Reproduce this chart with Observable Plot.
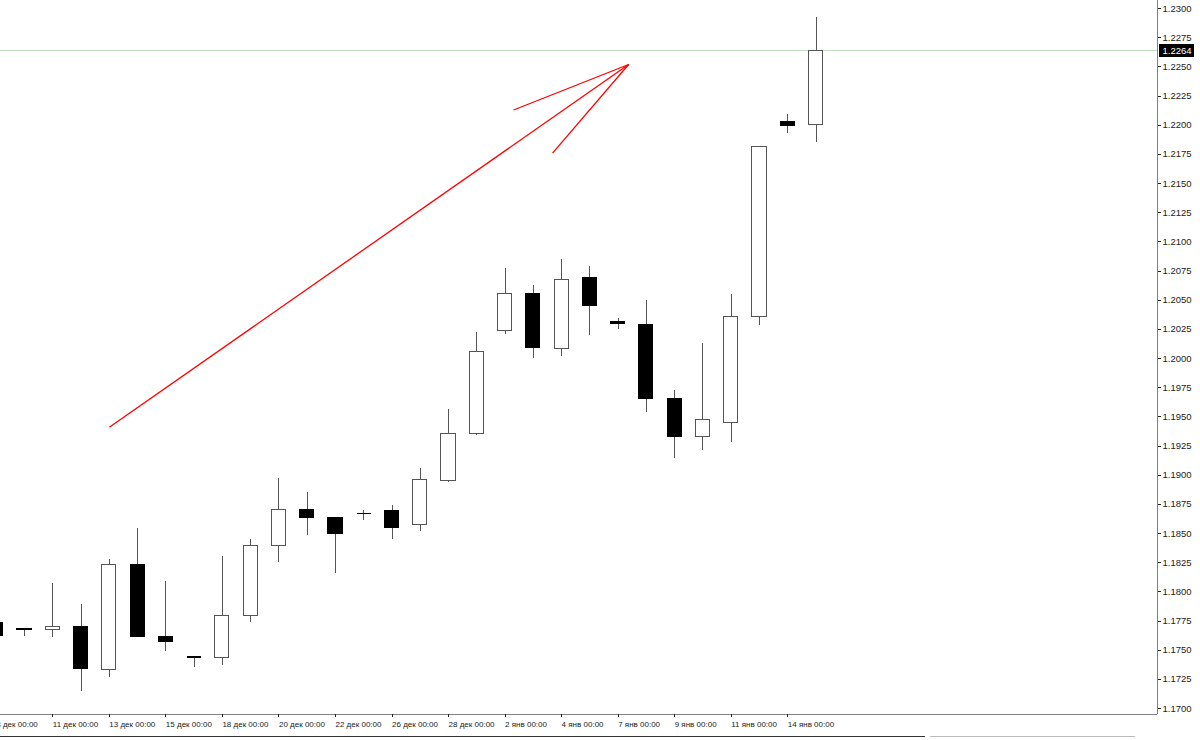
<!DOCTYPE html>
<html>
<head>
<meta charset="utf-8">
<script src="https://cdn.jsdelivr.net/npm/d3@7"></script>
<script src="https://cdn.jsdelivr.net/npm/@observablehq/plot@0.6"></script>
<style>
html, body { margin: 0; padding: 0; background: #fff; overflow: hidden; }
#chart { position: relative; width: 1200px; height: 740px; overflow: hidden; background: #fff; }
#chart svg { display: block; }
.chrome { position: absolute; }
</style>
</head>
<body>
<div id="chart"></div>
<script>
// ---- data (EUR/USD daily candles) ----
const dates = ["8 дек","10 дек","11 дек","12 дек","13 дек","14 дек","15 дек","17 дек","18 дек","19 дек",
               "20 дек","21 дек","22 дек","24 дек","26 дек","27 дек","28 дек","29 дек","2 янв","3 янв",
               "4 янв","5 янв","7 янв","8 янв","9 янв","10 янв","11 янв","12 янв","14 янв","15 янв"];
const opens  = [1.1773,1.1768,1.1767,1.1770,1.1733,1.1823,1.1761,1.1744,1.1743,1.1779,
                1.1839,1.1870,1.1863,1.1867,1.1869,1.1857,1.1895,1.1935,1.2024,1.2055,
                1.2008,1.2069,1.2031,1.2029,1.1965,1.1933,1.1945,1.2036,1.2203,1.2200];
const highs  = [1.1776,1.1768,1.1807,1.1789,1.1828,1.1854,1.1809,1.1745,1.1830,1.1845,
                1.1897,1.1885,1.1864,1.1870,1.1874,1.1906,1.1956,1.2022,1.2077,1.2063,
                1.2085,1.2079,1.2034,1.2050,1.1973,1.2013,1.2055,1.2181,1.2209,1.2292];
const lows   = [1.1758,1.1762,1.1761,1.1715,1.1727,1.1761,1.1749,1.1735,1.1737,1.1774,
                1.1825,1.1848,1.1816,1.1861,1.1845,1.1852,1.1894,1.1934,1.2021,1.2000,
                1.2002,1.2020,1.2025,1.1954,1.1914,1.1921,1.1928,1.2028,1.2193,1.2185];
const closes = [1.1762,1.1767,1.1770,1.1734,1.1823,1.1761,1.1757,1.1744,1.1779,1.1839,
                1.1870,1.1863,1.1850,1.1867,1.1855,1.1896,1.1935,1.2006,1.2055,1.2009,
                1.2067,1.2045,1.2030,1.1965,1.1933,1.1947,1.2036,1.2181,1.2199,1.2264];
const yTicks = [1.1700,1.1725,1.1750,1.1775,1.1800,1.1825,1.1850,1.1875,1.1900,1.1925,1.1950,1.1975,
                1.2000,1.2025,1.2050,1.2075,1.2100,1.2125,1.2150,1.2175,1.2200,1.2225,1.2250,1.2275,1.2300];
const xTickIdx = [0,2,4,6,8,10,12,14,16,18,20,22,24,26,28];
const lastPrice = 1.2264;
// hand-drawn red arrow (candle index, price)
const arrowX1 = [4.0, 18.30, 19.68];
const arrowY1 = [1.1941, 1.2213, 1.2176];
const arrowX2 = [22.37, 22.37, 22.37];
const arrowY2 = [1.2252, 1.2252, 1.2252];

// ---- build tables ----
const candles = dates.map((d, i) => ({i, date: d, o: opens[i], h: highs[i], l: lows[i], c: closes[i]}));
const arrow = arrowX1.map((x, k) => ({x1: x, y1: arrowY1[k], x2: arrowX2[k], y2: arrowY2[k]}));
const half = 0.25;
const up = d => d.c >= d.o;
const dojis = candles.filter(d => Math.abs(d.c - d.o) < 0.00015);
const fmt4 = d3.format(".4f");

const W = 1200, H = 740, MR = 43, MB = 26;

const chart = Plot.plot({
  width: W, height: H,
  marginLeft: 0, marginRight: MR, marginTop: 0, marginBottom: MB,
  x: {type: "linear", domain: [0.15, 41.08]},
  y: {type: "linear", domain: [1.169486, 1.230686]},
  style: {fontFamily: "'Liberation Sans', Arial, sans-serif", fontSize: "9.5px", background: "white", color: "#111", overflow: "visible"},
  marks: [
    Plot.ruleY([lastPrice], {stroke: "#bfe0bf", strokeWidth: 1, shapeRendering: "crispEdges"}),
    Plot.ruleX(candles, {x: "i", y1: "l", y2: "h", stroke: "#555", strokeWidth: 1, shapeRendering: "crispEdges"}),
    Plot.rect(candles, {
      x1: d => d.i - half, x2: d => d.i + half,
      y1: d => Math.min(d.o, d.c), y2: d => Math.max(d.o, d.c),
      fill: d => up(d) ? "white" : "black",
      stroke: d => up(d) ? "#555" : "black",
      strokeWidth: 1, shapeRendering: "crispEdges"
    }),
    Plot.link(dojis, {x1: d => d.i - half, x2: d => d.i + half, y1: "o", y2: "o", stroke: "black", strokeWidth: 1.5, shapeRendering: "crispEdges"}),
    Plot.link(arrow, {x1: "x1", y1: "y1", x2: "x2", y2: "y2", stroke: "#ff0000", strokeWidth: 1.3}),
    Plot.ruleX([41.08], {stroke: "#808080", strokeWidth: 1, shapeRendering: "crispEdges"}),
    Plot.ruleY([1.169486], {stroke: "#808080", strokeWidth: 1, shapeRendering: "crispEdges"}),
    Plot.axisY({anchor: "right", ticks: yTicks, tickFormat: fmt4, tickSize: 3, tickPadding: 2,
                fontSize: 9.5, color: "#222", shapeRendering: "crispEdges"}),
    Plot.axisX({anchor: "bottom", ticks: xTickIdx, tickFormat: i => dates[i] + " 00:00", tickSize: 3, tickPadding: 4,
                textAnchor: "start", dx: 0, fontSize: 8, color: "#222", shapeRendering: "crispEdges"}),
    Plot.text([lastPrice], {frameAnchor: "right", y: d => d, text: d => fmt4(d), dx: 5,
                textAnchor: "start", fill: "white", fontSize: 9.5})
  ]
});

// black box behind the current-price label
const yPx = chart.scale("y").apply(lastPrice);
const tagText = Array.from(chart.querySelectorAll("text")).filter(t => t.textContent === fmt4(lastPrice)).pop();
if (tagText) {
  const svgNS = "http://www.w3.org/2000/svg";
  const rect = document.createElementNS(svgNS, "rect");
  rect.setAttribute("x", W - MR + 2);
  rect.setAttribute("y", Math.round(yPx) - 6);
  rect.setAttribute("width", 35);
  rect.setAttribute("height", 13);
  rect.setAttribute("fill", "black");
  const g = tagText.parentNode;
  g.parentNode.insertBefore(rect, g);
}

const root = document.getElementById("chart");
root.appendChild(chart);

// bottom window chrome
const c1 = document.createElement("div");
c1.className = "chrome";
Object.assign(c1.style, {left: "0px", top: "736px", width: "925px", height: "1px", background: "#333"});
const c2 = document.createElement("div");
c2.className = "chrome";
Object.assign(c2.style, {left: "930px", top: "736px", width: "205px", height: "1px", background: "#bbb"});
root.appendChild(c1); root.appendChild(c2);
</script>
</body>
</html>
